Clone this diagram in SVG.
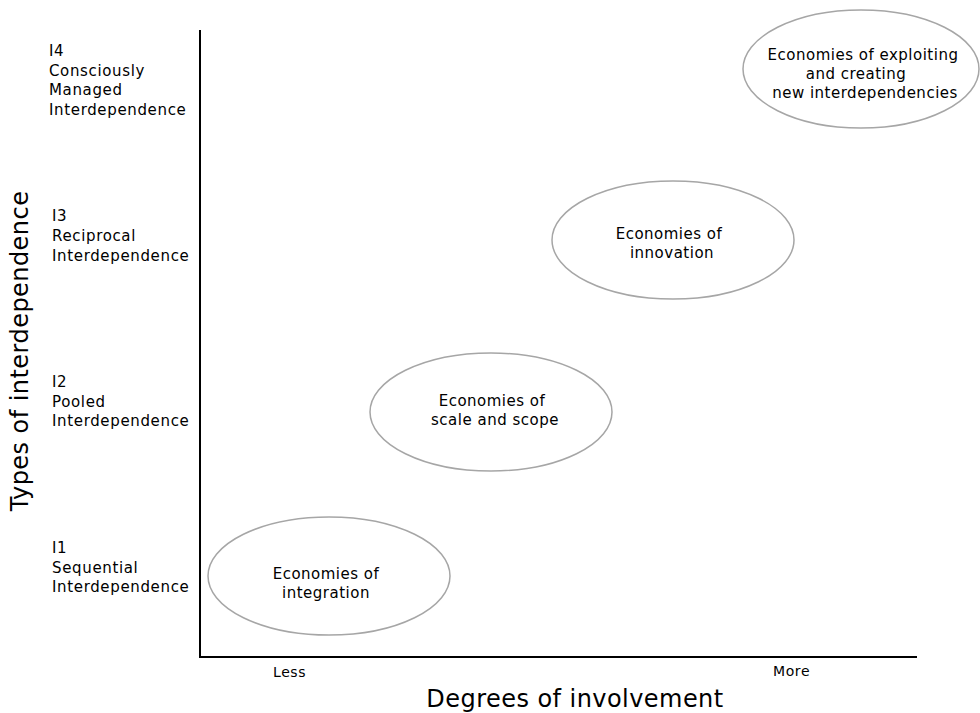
<svg xmlns="http://www.w3.org/2000/svg" width="980" height="713" viewBox="0 0 980 713">
  <style>
    text { font-family: "DejaVu Sans", Verdana, sans-serif; fill: #000; }
    .lbl { font-size: 15px; letter-spacing: 0.5px; }
    .side { font-size: 15px; letter-spacing: 0.65px; }
    .tick { font-size: 14px; letter-spacing: 0.6px; }
    .mid { text-anchor: middle; }
    .axis-title { font-size: 24px; letter-spacing: 0.45px; }
    .bubble { fill: #fff; stroke: #a6a6a6; stroke-width: 1.5; }
    .axis { stroke: #000; stroke-width: 2; fill: none; }
  </style>
  <rect width="980" height="713" fill="#fff"/>

  <!-- axes -->
  <g id="axes">
    <path class="axis" d="M200,30 V657 H917"/>
  </g>

  <!-- axis titles -->
  <text class="axis-title" transform="translate(28,351) rotate(-90)" text-anchor="middle">Types of interdependence</text>
  <text class="axis-title mid" x="575" y="707">Degrees of involvement</text>
  <text class="tick" x="273" y="677">Less</text>
  <text class="tick" x="773" y="676">More</text>

  <!-- interdependence levels -->
  <g id="level-I4">
    <text class="side" x="49" y="56">I4</text>
    <text class="side" x="49" y="76">Consciously</text>
    <text class="side" x="49" y="95">Managed</text>
    <text class="side" x="49" y="115">Interdependence</text>
  </g>
  <g id="level-I3">
    <text class="side" x="52" y="221">I3</text>
    <text class="side" x="52" y="241">Reciprocal</text>
    <text class="side" x="52" y="261">Interdependence</text>
  </g>
  <g id="level-I2">
    <text class="side" x="52" y="387">I2</text>
    <text class="side" x="52" y="407">Pooled</text>
    <text class="side" x="52" y="426">Interdependence</text>
  </g>
  <g id="level-I1">
    <text class="side" x="52" y="553">I1</text>
    <text class="side" x="52" y="573">Sequential</text>
    <text class="side" x="52" y="592">Interdependence</text>
  </g>

  <!-- economies -->
  <g id="integration">
    <ellipse class="bubble" cx="329" cy="576" rx="121" ry="59"/>
    <text class="lbl mid" x="326" y="579">Economies of</text>
    <text class="lbl mid" x="326" y="598">integration</text>
  </g>
  <g id="scale-scope">
    <ellipse class="bubble" cx="491" cy="412" rx="121" ry="59"/>
    <text class="lbl mid" x="492" y="406">Economies of</text>
    <text class="lbl mid" x="495" y="425">scale and scope</text>
  </g>
  <g id="innovation">
    <ellipse class="bubble" cx="673" cy="240" rx="121" ry="59"/>
    <text class="lbl mid" x="669" y="239">Economies of</text>
    <text class="lbl mid" x="672" y="258">innovation</text>
  </g>
  <g id="exploiting">
    <ellipse class="bubble" cx="861" cy="69" rx="118" ry="59"/>
    <text class="lbl mid" x="863" y="60">Economies of exploiting</text>
    <text class="lbl mid" x="856" y="79">and creating</text>
    <text class="lbl mid" x="865" y="98">new interdependencies</text>
  </g>
</svg>
